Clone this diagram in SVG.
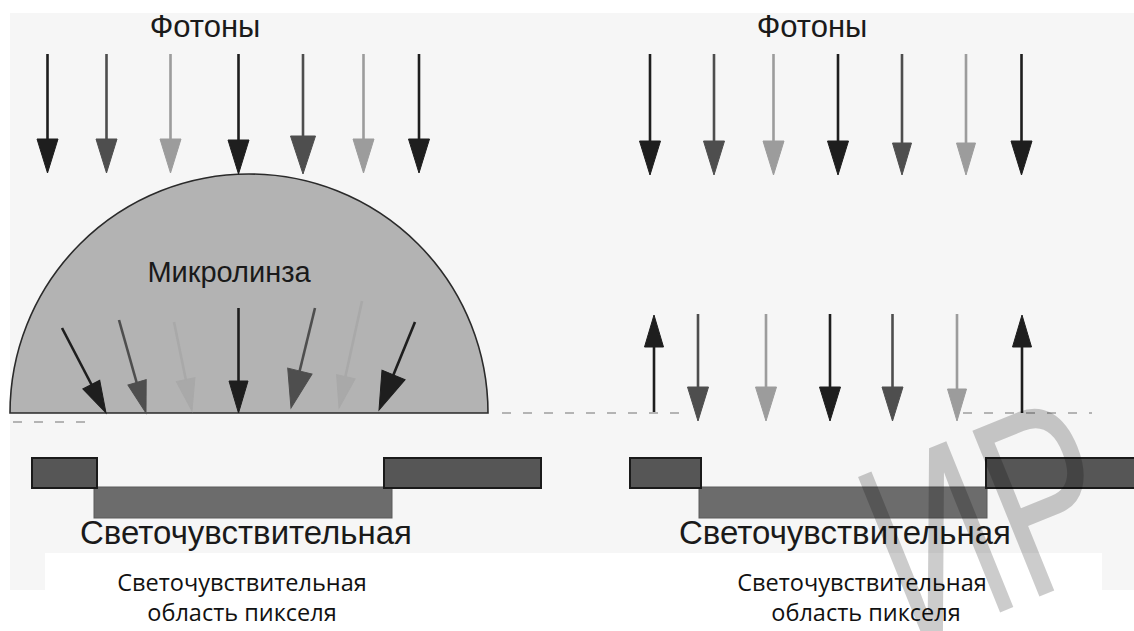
<svg xmlns="http://www.w3.org/2000/svg" xmlns:xlink="http://www.w3.org/1999/xlink" width="1134" height="631" viewBox="0 0 1134 631">
  <style>
    .label { font-family: "Liberation Sans", Arial, sans-serif; fill: #1a1a1a; }
    .caption { font-family: "Open Sans", "Noto Sans", sans-serif; fill: #111; font-size: 23.5px; }
    .ray { stroke-width: 2.6; fill: none; }
    .k1 { stroke: #1e1e1e; fill: #1e1e1e; }
    .k2 { stroke: #4e4e4e; fill: #4e4e4e; }
    .k3 { stroke: #9c9c9c; fill: #9c9c9c; }
    .k4 { stroke: #a9a9a9; fill: #a9a9a9; }
    .edge { stroke: #b4b4b4; stroke-width: 2; stroke-dasharray: 9 12; fill: none; }
    .pad { fill: #565656; stroke: #1a1a1a; stroke-width: 2; }
    .well { fill: #6c6c6c; stroke: #5a5a5a; stroke-width: 1; }
  </style>
  <defs>
    <!-- arrowheads, tip at the origin, pointing down (+y) -->
    <polygon id="head" points="0,0 -10.5,-34 10.5,-34"/>
    <polygon id="headW" points="0,0 -12.5,-38 12.5,-38"/>
    <polygon id="headS" points="0,0 -9.5,-32 9.5,-32"/>
  </defs>

  <!-- paper -->
  <rect x="0" y="0" width="1134" height="631" fill="#ffffff"/>
  <rect x="10" y="13" width="1124" height="577" fill="#f6f6f6"/>
  <rect x="45" y="553" width="1057" height="78" fill="#ffffff"/>

  <!-- ===== left panel: pixel with microlens ===== -->
  <g id="lens">
    <path d="M10,413 A239,239 0 0 1 488,413 Z" fill="#b3b3b3" stroke="#2a2a2a" stroke-width="1.6"/>
    <text class="label" x="229" y="282" font-size="29" text-anchor="middle">Микролинза</text>
  </g>

  <g id="photons-left">
    <text class="label" x="205" y="37" font-size="31" text-anchor="middle">Фотоны</text>
  </g>

  <g id="connectors">
    <!-- incoming photons, left -->
    <g id="rays-left-top">
      <line class="ray k1" x1="47.5" y1="54" x2="47.5" y2="145"/>
      <use href="#head" class="k1" transform="translate(47.5,173)"/>
      <line class="ray k2" x1="106.5" y1="54" x2="106.5" y2="145"/>
      <use href="#head" class="k2" transform="translate(106.5,173)"/>
      <line class="ray k3" x1="170.5" y1="54" x2="170.5" y2="145"/>
      <use href="#head" class="k3" transform="translate(170.5,173)"/>
      <line class="ray k1" x1="238.5" y1="54" x2="238.5" y2="145"/>
      <use href="#head" class="k1" transform="translate(238.5,174)"/>
      <line class="ray k2" x1="303" y1="54" x2="303" y2="145"/>
      <use href="#headW" class="k2" transform="translate(303,174)"/>
      <line class="ray k3" x1="363.5" y1="54" x2="363.5" y2="145"/>
      <use href="#head" class="k3" transform="translate(363.5,173)"/>
      <line class="ray k1" x1="419" y1="54" x2="419" y2="145"/>
      <use href="#head" class="k1" transform="translate(419,173)"/>
    </g>

    <!-- refracted photons inside the lens -->
    <g id="rays-lens">
      <line class="ray k1" x1="62" y1="328" x2="99" y2="399"/>
      <use href="#headS" class="k1" transform="translate(106,413) rotate(-27.4)"/>
      <line class="ray k2" x1="119" y1="320" x2="141" y2="398"/>
      <use href="#headS" class="k2" transform="translate(146,413) rotate(-16.2)"/>
      <line class="ray k4" x1="174" y1="322" x2="189" y2="395"/>
      <use href="#headS" class="k4" transform="translate(192,411) rotate(-11.5)"/>
      <line class="ray k1" x1="238.5" y1="308" x2="238.5" y2="398"/>
      <use href="#headS" class="k1" transform="translate(238.5,413)"/>
      <line class="ray k2" x1="315" y1="308" x2="295" y2="390"/>
      <use href="#headW" class="k2" transform="translate(291,408) rotate(13.5)"/>
      <line class="ray k4" x1="362" y1="301" x2="342" y2="392"/>
      <use href="#headS" class="k4" transform="translate(339,408) rotate(12.4)"/>
      <line class="ray k1" x1="415" y1="322" x2="386" y2="393"/>
      <use href="#headW" class="k1" transform="translate(379,410) rotate(22.5)"/>
    </g>

    <!-- incoming photons, right -->
    <g id="rays-right-top">
      <line class="ray k1" x1="650" y1="54" x2="650" y2="145"/>
      <use href="#head" class="k1" transform="translate(650,175)"/>
      <line class="ray k2" x1="714" y1="54" x2="714" y2="145"/>
      <use href="#head" class="k2" transform="translate(714,175)"/>
      <line class="ray k3" x1="773.5" y1="54" x2="773.5" y2="145"/>
      <use href="#head" class="k3" transform="translate(773.5,175)"/>
      <line class="ray k1" x1="838" y1="54" x2="838" y2="145"/>
      <use href="#head" class="k1" transform="translate(838,175)"/>
      <line class="ray k2" x1="902" y1="54" x2="902" y2="145"/>
      <use href="#headS" class="k2" transform="translate(902,175)"/>
      <line class="ray k3" x1="966" y1="54" x2="966" y2="145"/>
      <use href="#headS" class="k3" transform="translate(966,175)"/>
      <line class="ray k1" x1="1021.5" y1="54" x2="1021.5" y2="145"/>
      <use href="#head" class="k1" transform="translate(1021.5,175)"/>
    </g>

    <!-- photons at the bare pixel: reflected at the edges, passing in the middle -->
    <g id="rays-right-bottom">
      <line class="ray k1" x1="654" y1="413" x2="654" y2="335"/>
      <use href="#headS" class="k1" transform="translate(654,315) rotate(180)"/>
      <line class="ray k2" x1="698" y1="314" x2="698" y2="395"/>
      <use href="#head" class="k2" transform="translate(698,421)"/>
      <line class="ray k3" x1="766" y1="314" x2="766" y2="395"/>
      <use href="#head" class="k3" transform="translate(766,421)"/>
      <line class="ray k1" x1="830" y1="314" x2="830" y2="395"/>
      <use href="#head" class="k1" transform="translate(830,421)"/>
      <line class="ray k2" x1="892.5" y1="314" x2="892.5" y2="395"/>
      <use href="#head" class="k2" transform="translate(892.5,421)"/>
      <line class="ray k3" x1="957" y1="314" x2="957" y2="395"/>
      <use href="#headS" class="k3" transform="translate(957,421)"/>
      <line class="ray k1" x1="1022" y1="413" x2="1022" y2="335"/>
      <use href="#headS" class="k1" transform="translate(1022,315) rotate(180)"/>
    </g>

    <!-- surface level -->
    <g id="surface">
      <line class="edge" x1="13" y1="422" x2="95" y2="422"/>
      <line class="edge" x1="502" y1="413" x2="690" y2="413"/>
      <line class="edge" x1="963" y1="413" x2="1092" y2="413"/>
    </g>
  </g>

  <g id="pixel-left">
    <rect class="well" x="94" y="487" width="298" height="31"/>
    <rect class="pad" x="32" y="458" width="65" height="30"/>
    <rect class="pad" x="384" y="458" width="157" height="30"/>
    <text class="label" x="246" y="544" font-size="33" text-anchor="middle">Светочувствительная</text>
  </g>

  <g id="photons-right">
    <text class="label" x="812" y="37" font-size="31" text-anchor="middle">Фотоны</text>
  </g>

  <g id="pixel-right">
    <rect class="well" x="699" y="487" width="288" height="31"/>
    <rect class="pad" x="630" y="458" width="71" height="30"/>
    <rect class="pad" x="986" y="458" width="150" height="30"/>
    <text class="label" x="845" y="544" font-size="33" text-anchor="middle">Светочувствительная</text>
  </g>

  <g id="caption-left">
    <text class="caption" x="242" y="591" text-anchor="middle">Светочувствительная</text>
    <text class="caption" x="242" y="621" text-anchor="middle">область пикселя</text>
  </g>

  <g id="caption-right">
    <text class="caption" x="862" y="591" text-anchor="middle">Светочувствительная</text>
    <text class="caption" x="866" y="621" text-anchor="middle">область пикселя</text>
  </g>

  <!-- page stamp -->
  <g id="stamp">
    <text x="0" y="0" font-family="Liberation Sans, sans-serif" font-size="260" fill="#000" fill-opacity="0.2" transform="translate(912,648) rotate(-22) scale(0.66,1)">ИР</text>
  </g>
</svg>
